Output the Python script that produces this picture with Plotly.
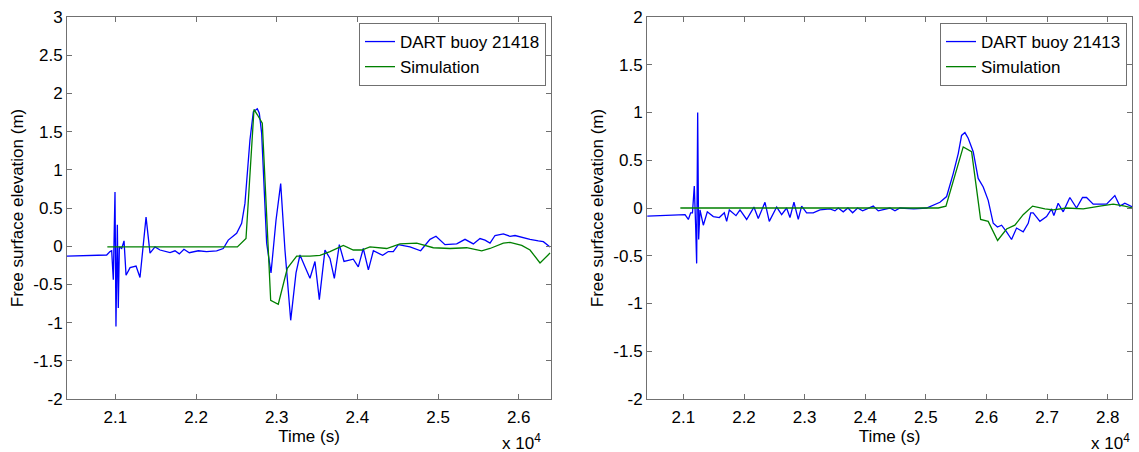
import plotly.graph_objects as go

# ---------------- data ----------------
# Left panel: DART buoy 21418
dart1_t = [20396, 20892, 20933, 20954, 20974, 20995, 21007, 21024, 21036, 21049, 21078, 21107,
           21132, 21182, 21256, 21305, 21380, 21429, 21491, 21553, 21677, 21739, 21792, 21850,
           21916, 22028, 22130, 22255, 22337, 22399, 22503, 22565, 22606, 22668, 22710, 22759,
           22784, 22813, 22875, 22929, 22991, 23049, 23102, 23173, 23239, 23288, 23350, 23412,
           23474, 23528, 23598, 23660, 23714, 23776, 23834, 23949, 24011, 24073, 24136, 24198,
           24313, 24383, 24445, 24507, 24652, 24784, 24900, 24974, 25086, 25231, 25334, 25437,
           25520, 25582, 25644, 25706, 25809, 25892, 25954, 26057, 26140, 26243, 26305, 26388]
dart1_h = [-0.13, -0.115, -0.07, -0.06, -0.44, 0.71, -1.05, 0.28, -0.81, -0.01, -0.03, 0.07,
           -0.38, -0.28, -0.26, -0.41, 0.38, -0.09, -0.01, -0.05, -0.085, -0.06, -0.10, -0.04,
           -0.085, -0.06, -0.07, -0.06, -0.03, 0.08, 0.17, 0.30, 0.56, 1.39, 1.76, 1.80,
           1.74, 1.48, 0.04, -0.35, 0.34, 0.82, -0.05, -0.97, -0.35, -0.115, -0.27, -0.42,
           -0.20, -0.70, -0.05, -0.16, -0.42, 0.02, -0.20, -0.17, -0.27, -0.03, -0.31, -0.06,
           -0.12, -0.07, -0.07, 0.02, -0.01, -0.06, 0.09, 0.13, 0.02, 0.03, 0.09, 0.03,
           0.10, 0.08, 0.04, 0.14, 0.16, 0.13, 0.14, 0.11, 0.09, 0.07, 0.06, -0.01]

# Left panel: simulation
sim1_t = [20900, 22512, 22619, 22718, 22760, 22821, 22925, 23019, 23131, 23247, 23412, 23536,
          23660, 23826, 23949, 24053, 24156, 24259, 24363, 24528, 24735, 24941, 25148, 25355,
          25541, 25644, 25809, 25892, 26037, 26140, 26264, 26388]
sim1_h = [-0.01, -0.01, 0.10, 1.79, 1.72, 1.61, -0.71, -0.76, -0.29, -0.13, -0.13, -0.12,
          -0.07, 0.01, -0.05, -0.05, -0.01, -0.02, -0.03, 0.03, 0.04, -0.02, -0.03, -0.02,
          -0.06, -0.03, 0.04, 0.05, 0.01, -0.05, -0.22, -0.09]

# Right panel: DART buoy 21413
dart2_t = [20405, 21027, 21082, 21120, 21150, 21180, 21203, 21219, 21236, 21252, 21274, 21329,
           21395, 21494, 21593, 21675, 21714, 21758, 21868, 21934, 22044, 22164, 22235, 22346,
           22417, 22539, 22621, 22703, 22758, 22824, 22895, 22951, 23033, 23142, 23253, 23418,
           23500, 23555, 23637, 23715, 23792, 23874, 23957, 24040, 24132, 24214, 24407, 24490,
           24572, 24800, 25012, 25232, 25342, 25451, 25534, 25589, 25644, 25698, 25781, 25863,
           25946, 26028, 26111, 26180, 26249, 26331, 26413, 26496, 26605, 26688, 26730, 26770,
           26881, 26991, 27073, 27111, 27182, 27265, 27375, 27485, 27584, 27650, 27760, 27980,
           28117, 28200, 28282, 28408]
dart2_h = [-0.085, -0.07, -0.12, -0.05, -0.05, 0.23, -0.20, -0.58, 1.00, -0.33, -0.02, -0.18,
           -0.04, -0.09, -0.10, -0.05, -0.14, -0.02, -0.08, -0.02, -0.12, 0.01, -0.11, 0.06,
           -0.14, 0.01, -0.07, 0.00, -0.10, 0.06, -0.12, 0.02, -0.05, -0.05, -0.02, -0.01,
           -0.03, 0.00, -0.04, 0.00, -0.05, 0.00, -0.03, -0.01, 0.02, -0.03, 0.00, -0.03,
           0.00, -0.01, 0.00, 0.06, 0.12, 0.36, 0.57, 0.76, 0.79, 0.73, 0.59, 0.31,
           0.22, 0.08, -0.16, -0.20, -0.18, -0.25, -0.33, -0.21, -0.25, -0.16, -0.05, -0.05,
           -0.14, -0.09, -0.01, -0.08, 0.05, -0.04, 0.11, 0.00, 0.11, 0.11, 0.04, 0.04,
           0.13, 0.02, 0.05, 0.01]

# Right panel: simulation
sim2_t = [20950, 25204, 25331, 25616, 25754, 25903, 26028, 26183, 26331, 26468, 26605, 26760,
          26963, 27100, 27320, 27595, 27870, 28090, 28282, 28408]
sim2_h = [0.00, 0.00, 0.02, 0.64, 0.59, -0.12, -0.14, -0.34, -0.22, -0.18, -0.07, 0.02,
          -0.01, -0.02, 0.00, -0.01, 0.02, 0.04, 0.02, 0.00]

# ticks
x1_ticks = [21000, 22000, 23000, 24000, 25000, 26000]
x1_labels = ["2.1", "2.2", "2.3", "2.4", "2.5", "2.6"]
x2_ticks = [21000, 22000, 23000, 24000, 25000, 26000, 27000, 28000]
x2_labels = ["2.1", "2.2", "2.3", "2.4", "2.5", "2.6", "2.7", "2.8"]
y1_ticks = [3, 2.5, 2, 1.5, 1, 0.5, 0, -0.5, -1, -1.5, -2]
y1_labels = ["3", "2.5", "2", "1.5", "1", "0.5", "0", "-0.5", "-1", "-1.5", "-2"]
y2_ticks = [2, 1.5, 1, 0.5, 0, -0.5, -1, -1.5, -2]
y2_labels = ["2", "1.5", "1", "0.5", "0", "-0.5", "-1", "-1.5", "-2"]

BLUE = "#0000ff"
GREEN = "#008000"
AX = "#707070"
FONT = "Liberation Sans, Arial, sans-serif"
FS = 17

fig = go.Figure()
fig.add_trace(go.Scatter(x=dart1_t, y=dart1_h, mode="lines", name="DART buoy 21418",
                         line=dict(color=BLUE, width=1.3), xaxis="x", yaxis="y", legend="legend"))
fig.add_trace(go.Scatter(x=sim1_t, y=sim1_h, mode="lines", name="Simulation",
                         line=dict(color=GREEN, width=1.3), xaxis="x", yaxis="y", legend="legend"))
fig.add_trace(go.Scatter(x=dart2_t, y=dart2_h, mode="lines", name="DART buoy 21413",
                         line=dict(color=BLUE, width=1.3), xaxis="x2", yaxis="y2", legend="legend2"))
fig.add_trace(go.Scatter(x=sim2_t, y=sim2_h, mode="lines", name="Simulation",
                         line=dict(color=GREEN, width=1.3), xaxis="x2", yaxis="y2", legend="legend2"))

W, H = 1139, 452
yd = [1 - 399 / H, 1 - 17 / H]

def xaxis(dom, rng, tv, tt, anchor):
    return dict(domain=dom, range=rng, tickvals=tv, ticktext=tt, anchor=anchor,
                ticks="inside", ticklen=5, tickcolor=AX, showline=True, linecolor=AX,
                linewidth=1, mirror="ticks", showgrid=False, zeroline=False,
                automargin=False,
                tickfont=dict(family=FONT, size=FS, color="black"),
                title=dict(text="Time (s)", font=dict(family=FONT, size=FS, color="black"),
                           standoff=0),
                ticklabelstandoff=3)

def yaxis(rng, tv, tt, anchor):
    return dict(domain=yd, range=rng, tickvals=tv, ticktext=tt, anchor=anchor,
                ticks="inside", ticklen=5, tickcolor=AX, showline=True, linecolor=AX,
                linewidth=1, mirror="ticks", showgrid=False, zeroline=False,
                automargin=False,
                tickfont=dict(family=FONT, size=FS, color="black"),
                title=dict(text="Free surface elevation (m)",
                           font=dict(family=FONT, size=FS, color="black"), standoff=5))

leg_common = dict(bgcolor="white", bordercolor=AX, borderwidth=1,
                  font=dict(family=FONT, size=FS, color="black"),
                  xanchor="right", yanchor="top", tracegroupgap=0, itemwidth=30)

fig.update_layout(
    width=W, height=H, autosize=False,
    margin=dict(l=0, r=0, t=0, b=0, autoexpand=False),
    paper_bgcolor="white", plot_bgcolor="white",
    xaxis=xaxis([67 / W, 551 / W], [20400, 26400], x1_ticks, x1_labels, "y"),
    yaxis=yaxis([-2, 3], y1_ticks, y1_labels, "x"),
    xaxis2=xaxis([647 / W, 1132 / W], [20400, 28400], x2_ticks, x2_labels, "y2"),
    yaxis2=yaxis([-2, 2], y2_ticks, y2_labels, "x2"),
    legend=dict(x=546 / W, y=1 - 23 / H, **leg_common),
    legend2=dict(x=1127 / W, y=1 - 23 / H, **leg_common),
    annotations=[
        dict(text="x 10<sup>4</sup>", x=543 / W, y=1 - 442 / H, xref="paper", yref="paper",
             xanchor="right", yanchor="middle", showarrow=False,
             font=dict(family=FONT, size=FS, color="black")),
        dict(text="x 10<sup>4</sup>", x=1132 / W, y=1 - 442 / H, xref="paper", yref="paper",
             xanchor="right", yanchor="middle", showarrow=False,
             font=dict(family=FONT, size=FS, color="black")),
    ],
)

fig.write_html("out.html", config={"displayModeBar": False},
               post_script="document.body.style.margin='0';document.body.style.overflow='hidden';")
